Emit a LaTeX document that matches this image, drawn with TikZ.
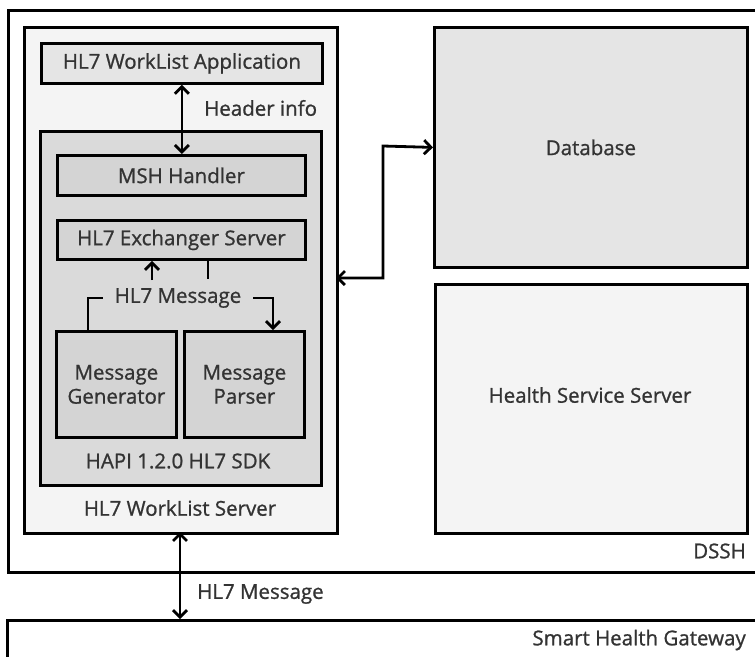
\documentclass[tikz,border=0pt]{standalone}
\usepackage{fontspec}
\setmainfont{Open Sans}
\newfontfamily\diagfont{Open Sans}[FakeBold=1]
\usetikzlibrary{arrows.meta,positioning}
\definecolor{paleGray}{HTML}{F4F4F4}
\definecolor{lightGray}{HTML}{E5E5E5}
\definecolor{midGray}{HTML}{D4D4D4}
\definecolor{textGray}{HTML}{333333}
\tikzset{
  box/.style={draw, line width=2.8pt, anchor=north west, inner sep=0pt, align=center},
  lbl/.style={font=\diagfont\fontsize{20.5}{24}\selectfont, text=textGray, inner sep=0pt},
  tip/.style={line width=2.8pt, -{Straight Barb[length=7pt,width=14pt,line width=2.8pt]}},
  link/.style={line width=2.8pt, {Straight Barb[length=7pt,width=14pt,line width=2.8pt]}-{Straight Barb[length=7pt,width=14pt,line width=2.8pt]}},
}
\begin{document}
\begin{tikzpicture}[x=1pt,y=-1pt]
  \useasboundingbox (0,0) rectangle (755,656);

  % Outer boxes
  \node[box, fill=white, minimum width=800pt, minimum height=562pt] (dssh) at (7,9) {};
  \node[box, fill=white, minimum width=800pt, minimum height=100pt] (gateway) at (6,619) {};
  \node[lbl, anchor=east] at (746,551) {DSSH};
  \node[lbl, anchor=east] at (746,640) {Smart Health Gateway};

  % WorkList server
  \node[box, fill=paleGray, minimum width=313pt, minimum height=506pt] (server) at (23,26) {};
  \node[box, lbl, fill=lightGray, minimum width=281pt, minimum height=40pt] (app) at (40,42) {HL7 WorkList Application};
  \node[box, fill=lightGray!95!black, minimum width=281pt, minimum height=354pt] (sdk) at (39,130) {};
  \node[box, lbl, fill=midGray, minimum width=248pt, minimum height=40pt] (msh) at (56,154) {MSH Handler};
  \node[box, lbl, fill=midGray, minimum width=248pt, minimum height=39pt] (exch) at (56,219) {HL7 Exchanger Server};
  \node[box, lbl, fill=midGray, minimum width=120pt, minimum height=106pt] (gen) at (55,330) {Message\\Generator};
  \node[box, lbl, fill=midGray, minimum width=120pt, minimum height=106pt] (parser) at (183,330) {Message\\Parser};
  \node[lbl, inner xsep=12pt] (hmsg) at (178,298) {HL7 Message};
  \node[lbl] at (178,461) {HAPI 1.2.0 HL7 SDK};
  \node[lbl] at (180,508) {HL7 WorkList Server};
  \node[lbl, anchor=west] at (204,108) {Header info};

  % Right side
  \node[box, lbl, fill=lightGray, minimum width=313pt, minimum height=240pt] (db) at (433,26) {Database};
  \node[box, fill=paleGray, minimum width=312pt, minimum height=249pt] (hss) at (434,283) {};
  \node[lbl] at (590,395) {Health Service Server};

  % Connectors
  \coordinate (upTap) at (152,280);
  \coordinate (dnTap) at (208,279);
  \coordinate (genTap) at (88,330);
  \coordinate (parTap) at (273,330);
  \coordinate (srvTap) at (336,278);
  \coordinate (bend) at (383,146);
  \coordinate (gwTap) at (180,532);

  \draw[link] (app.south) -- (app.south |- msh.north);
  \draw[tip] (upTap) -- (upTap |- exch.south);
  \draw[line width=2.8pt] (dnTap |- exch.south) -- (dnTap);
  \draw[line width=2.8pt] (genTap) |- (hmsg.west);
  \draw[tip] (hmsg.east) -| (parTap);
  \draw[link] (srvTap) -| (bend) -- (db.west);
  \draw[link] (gwTap) -- (gwTap |- gateway.north);
  \node[lbl, anchor=west] (gwmsg) at (197,594) {HL7 Message};
\end{tikzpicture}
\end{document}
